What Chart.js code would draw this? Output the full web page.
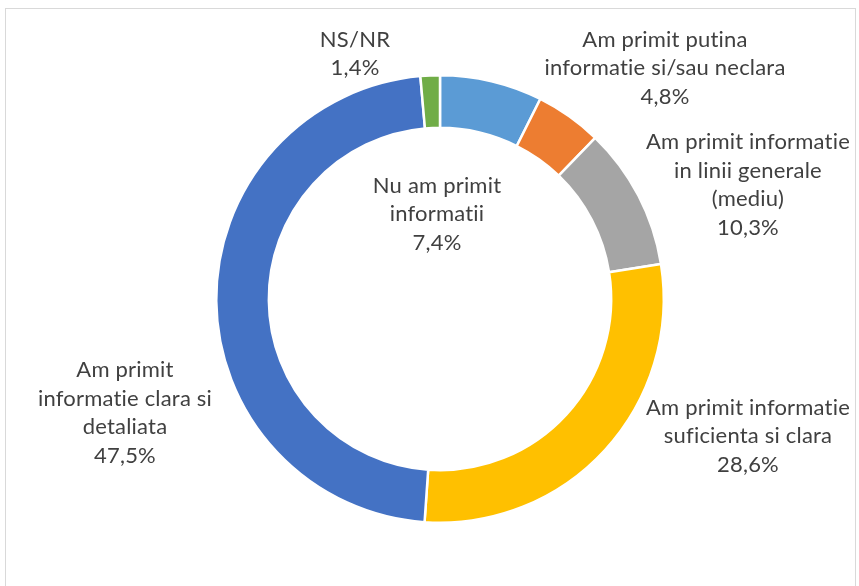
<!DOCTYPE html>
<html>
<head>
<meta charset="utf-8">
<script src="https://cdn.jsdelivr.net/npm/chart.js@4.4.1/dist/chart.umd.min.js"></script>
<style>
  html, body { margin: 0; padding: 0; background: #fff; }
  #wrap { position: relative; width: 859px; height: 586px; overflow: hidden; }
  #frame { position: absolute; left: 5px; top: 8px; width: 851px; height: 600px; border: 1px solid #d9d9d9; box-sizing: border-box; }
  canvas { position: absolute; left: 0; top: 0; }
</style>
</head>
<body>
<div id="wrap">
  <div id="frame"></div>
  <canvas id="infoDonut" width="859" height="586"></canvas>
</div>
<script>
/* ── Data ────────────────────────────────────────────── */
const CATEGORIES = [
    ['Nu am primit', 'informatii'],
    ['Am primit putina', 'informatie si/sau neclara'],
    ['Am primit informatie', 'in linii generale', '(mediu)'],
    ['Am primit informatie', 'suficienta si clara'],
    ['Am primit', 'informatie clara si', 'detaliata'],
    ['NS/NR'],
];
const VALUES = [7.4, 4.8, 10.3, 28.6, 47.5, 1.4];
const COLORS = ['#5b9bd5', '#ed7d31', '#a5a5a5', '#ffc000', '#4472c4', '#70ad47'];

/* label block centres, offset from the ring centre (px) */
const LABEL_OFFSETS = [
    [-3, -85], [225, -231], [308, -114], [308, 137], [-315, 114], [-85, -245]
];

const TEXT_COLOR = '#404040';
const FONT       = '22px Lato, "Open Sans", sans-serif';
const LINE_H     = 28.5;

const fmt = v => v.toFixed(1).replace('.', ',') + '%';

/* ── Data labels drawn next to each slice ───────────── */
const sliceLabels = {
    id: 'sliceLabels',
    afterDraw(chart) {
        const ctx  = chart.ctx;
        const arcs = chart.getDatasetMeta(0).data;
        ctx.save();
        ctx.font          = FONT;
        ctx.letterSpacing = '0.2px';   // also keeps Lato from joining "ti"
        ctx.fillStyle     = TEXT_COLOR;
        ctx.textAlign     = 'center';
        ctx.textBaseline  = 'middle';
        arcs.forEach((arc, i) => {
            const lines = CATEGORIES[i].concat(fmt(VALUES[i]));
            const cx = arc.x + LABEL_OFFSETS[i][0];
            const cy = arc.y + LABEL_OFFSETS[i][1];
            const top = cy - (lines.length - 1) * LINE_H / 2;
            lines.forEach((t, j) => ctx.fillText(t, cx, top + j * LINE_H));
        });
        ctx.restore();
    }
};

new Chart(document.getElementById('infoDonut'), {
    type: 'doughnut',
    data: {
        labels: CATEGORIES.map(c => c.join(' ')),
        datasets: [{
            data:            VALUES,
            backgroundColor: COLORS,
            borderColor:     '#ffffff',
            borderWidth:     2.5,
        }]
    },
    options: {
        responsive: false,
        animation:  false,
        cutout:     '76.5%',
        layout:     { padding: { left: 215, right: 194, top: 74, bottom: 62 } },
        plugins: {
            legend:  { display: false },
            tooltip: { enabled: false }
        }
    },
    plugins: [sliceLabels]
});
</script>
</body>
</html>
